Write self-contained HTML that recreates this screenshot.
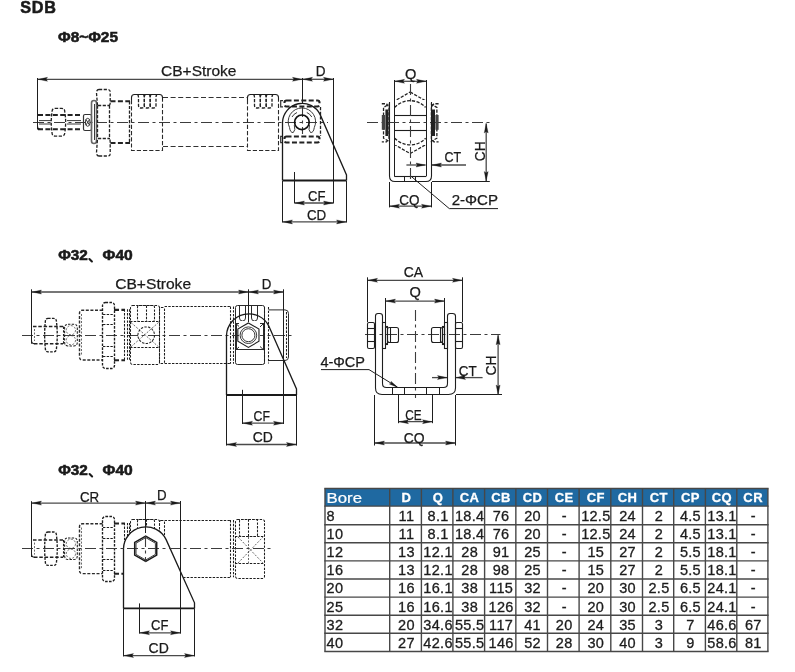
<!DOCTYPE html>
<html><head><meta charset="utf-8"><style>
html,body{margin:0;padding:0;background:#fff;width:795px;height:672px;overflow:hidden;position:relative}
svg{position:absolute;left:0;top:0;will-change:transform}
.s{stroke:#1e1e1e;stroke-width:1.1;fill:none}
.s2{stroke:#2a2a2a;stroke-width:1;fill:none}
.b{stroke:#1a1a1a;stroke-width:1.3;fill:none}
.bb{stroke:#1a1a1a;stroke-width:1.9;fill:none}
.ex{stroke:#1e1e1e;stroke-width:1;fill:none}
.dl{stroke:#4a4a4a;stroke-width:1.3;fill:none}
.d{stroke:#222;stroke-width:1.3;fill:none;stroke-dasharray:3.2 1.5}
.d2{stroke:#1e1e1e;stroke-width:1.05;fill:none;stroke-dasharray:2.4 1.3}
.dlong{stroke:#333;stroke-width:1.1;fill:none;stroke-dasharray:5 2.6}
.th3{stroke:#222;stroke-width:1.5;fill:none;stroke-dasharray:3.5 1.8}
.d3{stroke:#1e1e1e;stroke-width:1.35;fill:none;stroke-dasharray:2.6 1.3}
.dm2{stroke:#2a2a2a;stroke-width:1.1;fill:none;stroke-dasharray:4.2 2}
.cm{stroke:#1a1a1a;stroke-width:2.1;stroke-linecap:round}
.dt{stroke:#444;stroke-width:0.8;fill:none;stroke-dasharray:2 1.5}
.th{stroke:#222;stroke-width:2.1;fill:none;stroke-dasharray:5 2.4}
.th2{stroke:#2c2c2c;stroke-width:1.4;fill:none;stroke-dasharray:3 1.6}
.cl{stroke:#3c3c3c;stroke-width:1.1;fill:none;stroke-dasharray:11 3.5 3 3.5}
.g{stroke:#3a3a3a;stroke-width:1;fill:none}
.g2{stroke:#333;stroke-width:1.2;fill:none}
.fl{stroke:#666;stroke-width:1.6;fill:none}
.hx{stroke:#1a1a1a;stroke-width:1.5;fill:none}
.pin{stroke:#111;stroke-width:1.7;fill:none}
.fk{fill:#222;stroke:none}
.fk2{fill:#444;stroke:none}
.ar{fill:#1a1a1a;stroke:#1a1a1a;stroke-width:0.3}
.t{font-family:"Liberation Sans",sans-serif;fill:#1a1a1a;stroke:#1a1a1a;stroke-width:0.25}
.tb{font-family:"Liberation Sans",sans-serif;font-weight:bold;fill:#1a1a1a;stroke:#1a1a1a;stroke-width:0.55}
.tbl{stroke:#474747;stroke-width:1.4}
.th0{font-family:"Liberation Sans",sans-serif;fill:#fff;stroke:#fff;stroke-width:0.2}
.thb{font-family:"Liberation Sans",sans-serif;font-weight:bold;fill:#fff;letter-spacing:0.4px;stroke:#fff;stroke-width:0.3}
.td{font-family:"Liberation Sans",sans-serif;fill:#1c1c1c;letter-spacing:0.3px;stroke:#1c1c1c;stroke-width:0.3}
</style></head><body>
<svg width="795" height="672" viewBox="0 0 795 672">
<text class="tb" x="20.3" y="13.1" font-size="16.2" text-anchor="start" letter-spacing="0.7">SDB</text>
<text class="tb" x="58" y="41.5" font-size="14" text-anchor="start" textLength="60" lengthAdjust="spacingAndGlyphs">Φ8~Φ25</text>
<line class="cl" x1="33" y1="122.5" x2="328" y2="122.5"/>
<line class="ex" x1="37.5" y1="78" x2="37.5" y2="129.5"/>
<line class="dl" x1="38" y1="79.3" x2="302" y2="79.3"/>
<polygon class="ar" points="38,79.3 47.5,77.3 46.08,79.3 47.5,81.3"/>
<polygon class="ar" points="302,79.3 292.5,77.3 293.93,79.3 292.5,81.3"/>
<text class="t" x="161" y="75.8" font-size="14.8" text-anchor="start" textLength="75.5" lengthAdjust="spacingAndGlyphs">CB+Stroke</text>
<line class="ex" x1="302.5" y1="78" x2="302.5" y2="104"/>
<line class="cl" x1="302.5" y1="106" x2="302.5" y2="134"/>
<line class="dl" x1="303" y1="79.3" x2="333" y2="79.3"/>
<polygon class="ar" points="303,79.3 312.5,77.3 311.07,79.3 312.5,81.3"/>
<polygon class="ar" points="333,79.3 323.5,77.3 324.93,79.3 323.5,81.3"/>
<line class="ex" x1="333.5" y1="78" x2="333.5" y2="203.5"/>
<text class="t" x="315.8" y="75.6" font-size="14.6" text-anchor="start" textLength="9.8" lengthAdjust="spacingAndGlyphs">D</text>
<path class="th" d="M38,115 L82,115 M38,129.3 L82,129.3"/>
<path class="s" d="M37.5,126 Q37.5,129.3 40.5,129.3"/>
<path class="g" d="M39,120.6 L51,120.6 M39,124 L51,124 M67,120.6 L81,120.6 M67,124 L81,124"/>
<path class="d" d="M55,108.4 L61.5,108.4 Q64.8,108.4 64.8,112 Q66.5,122.3 64.8,132.5 Q64.8,136.1 61.5,136.1 L55,136.1 Q52,136.1 52,132.5 Q50.5,122.3 52,112 Q52,108.4 55,108.4 Z"/>
<rect class="g2" x="83.5" y="114.5" width="8" height="16" rx="1.5"/>
<ellipse class="g" cx="87.7" cy="122.3" rx="2.4" ry="4"/>
<path class="g" d="M86,119.5 L89.5,125 M86,125 L89.5,119.5"/>
<rect class="fl" x="91.5" y="100.5" width="5" height="43" rx="2.5"/>
<line class="g" x1="94.5" y1="104" x2="94.5" y2="140"/>
<path class="d" d="M99,89.5 L108,89.5 Q110.2,89.5 110.2,92 L110.2,103 Q110.2,105.6 108.5,105.6 M99,89.5 Q96.5,89.5 96.5,93 L97.5,105.6"/>
<path class="d" d="M99,156 L108,156 Q110.2,156 110.2,153.5 L110.2,142 Q110.2,138.6 108.5,138.6 M99,156 Q96.5,156 96.5,152.5 L97.5,138.6"/>
<line class="d" x1="109.5" y1="105.6" x2="109.5" y2="138.6"/>
<line class="d" x1="97.5" y1="105.6" x2="97.5" y2="138.6"/>
<line class="d" x1="98" y1="105.5" x2="110" y2="105.5"/>
<line class="d" x1="98" y1="138.5" x2="110" y2="138.5"/>
<path class="th" d="M110.5,101.2 L130,101.2 M110.5,143 L130,143"/>
<line class="d" x1="129.5" y1="101.2" x2="129.5" y2="143"/>
<path class="s" d="M131.5,100 L131.5,97.5 Q131.5,94.5 134.5,94.5 L159.5,94.5 Q162.5,94.5 162.5,97.5 L162.5,100"/>
<path class="dm2" d="M131.5,100 L131.5,150.5 L162.5,150.5 L162.5,100"/>
<path class="d" d="M137.7,94.5 Q138.5,95.5 138.5,97.5 L138.5,105.5 Q138.5,108 141,108 L141.83,108 Q144.33,108 144.33,105.5 L144.33,97.5 Q144.33,95.5 145.13,94.5"/>
<path class="d" d="M143.53,94.5 Q144.33,95.5 144.33,97.5 L144.33,105.5 Q144.33,108 146.83,108 L147.67,108 Q150.17,108 150.17,105.5 L150.17,97.5 Q150.17,95.5 150.97,94.5"/>
<path class="d" d="M149.37,94.5 Q150.17,95.5 150.17,97.5 L150.17,105.5 Q150.17,108 152.67,108 L153.5,108 Q156,108 156,105.5 L156,97.5 Q156,95.5 156.8,94.5"/>
<path class="dlong" d="M163,97.5 L247,97.5 M163,146.5 L247,146.5"/>
<path class="s" d="M247.5,100 L247.5,97.5 Q247.5,94.5 250.5,94.5 L275.5,94.5 Q278.5,94.5 278.5,97.5 L278.5,100"/>
<path class="dm2" d="M247.5,100 L247.5,150.5 L278.5,150.5 L278.5,100"/>
<path class="d" d="M253.7,94.5 Q254.5,95.5 254.5,97.5 L254.5,105.5 Q254.5,108 257,108 L257.83,108 Q260.33,108 260.33,105.5 L260.33,97.5 Q260.33,95.5 261.13,94.5"/>
<path class="d" d="M259.53,94.5 Q260.33,95.5 260.33,97.5 L260.33,105.5 Q260.33,108 262.83,108 L263.67,108 Q266.17,108 266.17,105.5 L266.17,97.5 Q266.17,95.5 266.97,94.5"/>
<path class="d" d="M265.37,94.5 Q266.17,95.5 266.17,97.5 L266.17,105.5 Q266.17,108 268.67,108 L269.5,108 Q272,108 272,105.5 L272,97.5 Q272,95.5 272.8,94.5"/>
<path class="g2" d="M283,100.6 L280.7,100.6 L280.7,106.9 L283,106.9"/>
<rect class="th" x="284.5" y="100.5" width="35" height="6" rx="2"/>
<path class="g2" d="M283,136.3 L280.7,136.3 L280.7,142.6 L283,142.6"/>
<rect class="th" x="284.5" y="136.5" width="35" height="6" rx="2"/>
<line class="d" x1="320.5" y1="107" x2="320.5" y2="136"/>
<path class="b" d="M282.5,180.5 L282.5,122.3 A19.8,19.8 0 0 1 320.05,114.38 L346.5,175 L346.5,180.5"/>
<line class="bb" x1="282.5" y1="180.5" x2="346.5" y2="180.5"/>
<line class="ex" x1="282.5" y1="181" x2="282.5" y2="222.6"/>
<line class="ex" x1="346.5" y1="181" x2="346.5" y2="222.6"/>
<circle class="pin" cx="301.9" cy="122.3" r="7.3"/>
<path class="g" d="M289.5,127.5 A13.7,13.7 0 1 1 314.3,127.5 Q313.5,133 310.5,132.5 Q308,130.5 309.5,125"/>
<path class="g" d="M289.5,127.5 Q290.3,133 293.3,132.5 Q295.8,130.5 294.3,125"/>
<path class="g" d="M292,117 A10.5,10.5 0 0 1 297,112.5 M311.8,117 A10.5,10.5 0 0 0 306.8,112.5"/>
<line class="ex" x1="294.5" y1="172" x2="294.5" y2="203.5"/>
<line class="dl" x1="295" y1="203" x2="333" y2="203"/>
<polygon class="ar" points="295,203 304.5,201 303.07,203 304.5,205"/>
<polygon class="ar" points="333,203 323.5,201 324.93,203 323.5,205"/>
<text class="t" x="308" y="201" font-size="14.6" text-anchor="start" textLength="17.5" lengthAdjust="spacingAndGlyphs">CF</text>
<line class="dl" x1="283" y1="221.9" x2="346" y2="221.9"/>
<polygon class="ar" points="283,221.9 292.5,219.9 291.07,221.9 292.5,223.9"/>
<polygon class="ar" points="346,221.9 336.5,219.9 337.93,221.9 336.5,223.9"/>
<text class="t" x="306.9" y="220.4" font-size="14.6" text-anchor="start" textLength="19.3" lengthAdjust="spacingAndGlyphs">CD</text>
<polygon class="d" points="410.2,92 436.87,107.4 436.87,138.2 410.2,153.6 383.53,138.2 383.53,107.4"/>
<rect x="389.8" y="100" width="40.8" height="45" fill="#fff"/>
<path class="d" d="M394.8,107.4 A21,21 0 0 1 425.6,107.4"/>
<path class="d" d="M394.8,138.2 A21,21 0 0 0 425.6,138.2"/>
<line class="s" x1="394.3" y1="115.5" x2="426" y2="115.5"/>
<line class="s" x1="394.3" y1="130.5" x2="426" y2="130.5"/>
<line class="ex" x1="394.5" y1="80" x2="394.5" y2="176.4"/>
<line class="ex" x1="426.5" y1="80" x2="426.5" y2="176.4"/>
<path class="s" d="M389.5,102 L389.5,176 Q389.5,181.5 395,181.5 L426,181.5 Q431.5,181.5 431.5,176 L431.5,102"/>
<line class="s" x1="394.3" y1="176.5" x2="426" y2="176.5"/>
<line class="ex" x1="404.5" y1="176.4" x2="404.5" y2="181.5"/>
<line class="ex" x1="415.5" y1="176.4" x2="415.5" y2="181.5"/>
<line class="cl" x1="410.5" y1="84" x2="410.5" y2="182"/>
<line class="cl" x1="367" y1="122.5" x2="490" y2="122.5"/>
<path class="d" d="M438.6,103.75 L433.9,103.75 L431.4,107 L431.4,138.5 L433.9,141.8 L438.6,141.8"/>
<rect class="fk" x="431.9" y="109.5" width="3.1" height="26.5"/>
<rect class="fk2" x="435.4" y="115" width="3.2" height="14.8"/>
<path class="d" d="M381.8,103.75 L386.5,103.75 L389,107 L389,138.5 L386.5,141.8 L381.8,141.8"/>
<rect class="fk" x="385.4" y="109.5" width="3.1" height="26.5"/>
<rect class="fk2" x="381.8" y="115" width="3.2" height="14.8"/>
<line class="dl" x1="395" y1="81.3" x2="426" y2="81.3"/>
<polygon class="ar" points="395,81.3 404.5,79.3 403.07,81.3 404.5,83.3"/>
<polygon class="ar" points="426,81.3 416.5,79.3 417.93,81.3 416.5,83.3"/>
<text class="t" x="410.7" y="78.9" font-size="14.6" text-anchor="middle">Q</text>
<line class="ex" x1="389.5" y1="182" x2="389.5" y2="207.4"/>
<line class="ex" x1="431.5" y1="182" x2="431.5" y2="207.4"/>
<line class="dl" x1="390" y1="206.2" x2="431" y2="206.2"/>
<polygon class="ar" points="390,206.2 399.5,204.2 398.07,206.2 399.5,208.2"/>
<polygon class="ar" points="431,206.2 421.5,204.2 422.93,206.2 421.5,208.2"/>
<text class="t" x="399.3" y="205" font-size="14.6" text-anchor="start" textLength="20.2" lengthAdjust="spacingAndGlyphs">CQ</text>
<line class="ex" x1="432" y1="181.5" x2="489.8" y2="181.5"/>
<line class="dl" x1="486.2" y1="123.5" x2="486.2" y2="181"/>
<polygon class="ar" points="486.2,123.5 484.2,133 486.2,131.57 488.2,133"/>
<polygon class="ar" points="486.2,181 484.2,171.5 486.2,172.93 488.2,171.5"/>
<text class="t" x="0" y="-0.4" font-size="14.6" text-anchor="start" textLength="19.8" lengthAdjust="spacingAndGlyphs" transform="translate(485,161.2) rotate(-90)">CH</text>
<line class="dl" x1="406.4" y1="165" x2="425.5" y2="165"/>
<polygon class="ar" points="425.5,165 416,163 417.43,165 416,167"/>
<line class="dl" x1="432" y1="165" x2="466" y2="165"/>
<polygon class="ar" points="432,165 441.5,163 440.07,165 441.5,167"/>
<text class="t" x="444.5" y="161.7" font-size="14.6" text-anchor="start" textLength="16.7" lengthAdjust="spacingAndGlyphs">CT</text>
<path class="ex" d="M411.2,176.4 L449.3,208.6 L498,208.6"/>
<text class="t" x="451.7" y="204.5" font-size="14.6" text-anchor="start" textLength="46.3" lengthAdjust="spacingAndGlyphs">2-ΦCP</text>
<line class="cl" x1="22" y1="335.5" x2="292" y2="335.5"/>
<path class="th3" d="M33,326.5 L63,326.5 M34,343.7 L63,343.7"/>
<path class="s" d="M31.5,340.5 Q31.5,343.7 34.5,343.7"/>
<line class="dt" x1="34.5" y1="329" x2="34.5" y2="341"/>
<line class="d2" x1="63.5" y1="326.5" x2="63.5" y2="343.7"/>
<path class="d3" d="M48,318.4 L53.5,318.4 Q56.5,318.4 56.5,322 Q58,335.2 56.5,348 Q56.5,351.8 53.5,351.8 L48,351.8 Q45.3,351.8 45.3,348 Q44,335.2 45.3,322 Q45.3,318.4 48,318.4 Z"/>
<path class="d2" d="M68,324.3 L74,324.3 Q77.3,324.3 77.3,328 L77.3,342 Q77.3,345.9 74,345.9 L68,345.9 Q64.6,345.9 64.6,342 L64.6,328 Q64.6,324.3 68,324.3 Z"/>
<circle class="dt" cx="70.9" cy="330.2" r="4.6"/>
<circle class="dt" cx="70.9" cy="340.2" r="4.6"/>
<path class="th2" d="M102.6,310.2 L82.5,310.2 Q79.5,310.2 79.5,313.2 L79.5,357 Q79.5,360 82.5,360 L102.6,360"/>
<line class="dt" x1="81.5" y1="314" x2="81.5" y2="356"/>
<rect class="d3" x="102.5" y="302.5" width="12" height="66" rx="3"/>
<line class="d2" x1="103" y1="314.5" x2="113.5" y2="314.5"/>
<line class="d2" x1="103" y1="324.5" x2="113.5" y2="324.5"/>
<line class="d2" x1="103" y1="346.5" x2="113.5" y2="346.5"/>
<line class="d2" x1="103" y1="356.5" x2="113.5" y2="356.5"/>
<path class="th" d="M114,309.9 L125,309.9 M114,360.2 L125,360.2"/>
<line class="d2" x1="124.5" y1="309.3" x2="124.5" y2="360.5"/>
<line class="d2" x1="127.5" y1="309.3" x2="127.5" y2="360.5"/>
<line class="d2" x1="129.5" y1="309.3" x2="129.5" y2="360.5"/>
<rect class="d2" x="130.5" y="305.5" width="29" height="59" rx="2"/>
<rect class="d2" x="137.5" y="305.5" width="17" height="16" rx="1.5"/>
<line class="d2" x1="146.5" y1="305.7" x2="146.5" y2="321.8"/>
<line class="d2" x1="130.1" y1="347.5" x2="159.3" y2="347.5"/>
<line class="d2" x1="130.1" y1="321.5" x2="159.3" y2="321.5"/>
<path class="dt" d="M131,322.5 L158.5,346.8 M131,346.8 L158.5,322.5"/>
<circle class="d2" cx="146.2" cy="335.2" r="8.3"/>
<rect class="d2" x="159.5" y="307.5" width="5" height="56" rx="1.5"/>
<line class="d2" x1="164.6" y1="306.5" x2="230.7" y2="306.5"/>
<line class="d2" x1="164.6" y1="363.5" x2="230.7" y2="363.5"/>
<line class="d2" x1="230.5" y1="306.5" x2="230.5" y2="363.75"/>
<line class="d2" x1="233.5" y1="306.5" x2="233.5" y2="363.75"/>
<rect class="s2" x="235.5" y="305.5" width="29" height="59" rx="2"/>
<path class="s2" d="M239.5,305.7 L239.5,318 Q239.5,321 242.5,321 Q245.5,321 245.5,318 L245.5,305.7 M251.5,305.7 L251.5,318 Q251.5,321 254.5,321 Q257.5,321 257.5,318 L257.5,305.7"/>
<line class="s2" x1="235.5" y1="349.5" x2="264.6" y2="349.5"/>
<rect class="s2" x="236.5" y="323.5" width="27" height="26"/>
<path class="s2" d="M236,323.6 L263.5,349.8 M236,349.8 L263.5,323.6"/>
<rect x="239" y="321" width="21" height="28" fill="#fff"/>
<polygon class="s" points="248.4,323 258.97,329.1 258.97,341.3 248.4,347.4 237.83,341.3 237.83,329.1"/>
<circle class="g" cx="248.4" cy="335.2" r="8.3"/>
<circle class="g" cx="248.4" cy="335.2" r="6.5"/>
<line class="d2" x1="264.5" y1="307" x2="264.5" y2="363.5"/>
<line class="d2" x1="268.5" y1="307" x2="268.5" y2="363.5"/>
<path class="s2" d="M268.8,309.9 L285,309.9 Q288.5,309.9 288.5,313.5 L288.5,357 Q288.5,360.5 285,360.5 L268.8,360.5"/>
<line class="d2" x1="286.5" y1="312" x2="286.5" y2="358"/>
<path class="b" d="M226.5,395 L226.5,335.2 A22.4,22.4 0 0 1 268.91,326.19 L296.5,389 L296.5,395"/>
<line class="bb" x1="226.5" y1="395" x2="296.5" y2="395"/>
<line class="ex" x1="226.5" y1="395" x2="226.5" y2="445.6"/>
<line class="ex" x1="296.5" y1="395" x2="296.5" y2="445.6"/>
<line class="ex" x1="31.5" y1="289.3" x2="31.5" y2="343.7"/>
<line class="dl" x1="32" y1="292" x2="248" y2="292"/>
<polygon class="ar" points="32,292 41.5,290 40.08,292 41.5,294"/>
<polygon class="ar" points="248,292 238.5,290 239.93,292 238.5,294"/>
<text class="t" x="115.2" y="288.6" font-size="14.8" text-anchor="start" textLength="75.9" lengthAdjust="spacingAndGlyphs">CB+Stroke</text>
<line class="ex" x1="248.5" y1="289.3" x2="248.5" y2="322"/>
<line class="dl" x1="249" y1="292" x2="283" y2="292"/>
<polygon class="ar" points="249,292 258.5,290 257.07,292 258.5,294"/>
<polygon class="ar" points="283,292 273.5,290 274.93,292 273.5,294"/>
<line class="ex" x1="283.5" y1="289.3" x2="283.5" y2="424"/>
<text class="t" x="261.8" y="289.3" font-size="14.6" text-anchor="start" textLength="9.6" lengthAdjust="spacingAndGlyphs">D</text>
<line class="ex" x1="242.5" y1="389.8" x2="242.5" y2="424"/>
<line class="dl" x1="243" y1="423.2" x2="283" y2="423.2"/>
<polygon class="ar" points="243,423.2 252.5,421.2 251.07,423.2 252.5,425.2"/>
<polygon class="ar" points="283,423.2 273.5,421.2 274.93,423.2 273.5,425.2"/>
<text class="t" x="253.6" y="421" font-size="14.6" text-anchor="start" textLength="16.4" lengthAdjust="spacingAndGlyphs">CF</text>
<line class="dl" x1="227" y1="444.5" x2="296" y2="444.5"/>
<polygon class="ar" points="227,444.5 236.5,442.5 235.07,444.5 236.5,446.5"/>
<polygon class="ar" points="296,444.5 286.5,442.5 287.93,444.5 286.5,446.5"/>
<text class="t" x="252.8" y="441.8" font-size="14.6" text-anchor="start" textLength="20.1" lengthAdjust="spacingAndGlyphs">CD</text>
<text class="tb" x="58.2" y="260.1" font-size="14.2" text-anchor="start" textLength="29.6" lengthAdjust="spacingAndGlyphs">Φ32</text>
<text class="tb" x="102.6" y="260.1" font-size="14.2" text-anchor="start" textLength="30.2" lengthAdjust="spacingAndGlyphs">Φ40</text>
<line class="cm" x1="89.4" y1="259.1" x2="91.9" y2="261.5"/>
<line class="cl" x1="415.5" y1="310" x2="415.5" y2="398"/>
<line class="cl" x1="365" y1="334.5" x2="500.5" y2="334.5"/>
<path class="s" d="M375.5,316 Q375.5,313.5 378,313.5 L379.8,313.5 Q382.5,313.5 382.5,316 L382.5,383.4 Q382.5,387.5 386.5,387.5 L443.5,387.5 Q447.5,387.5 447.5,383.4 L447.5,316 Q447.5,313.5 450,313.5 L452.5,313.5 Q455.5,313.5 455.5,316 L455.5,388 Q455.5,394.5 448.5,394.5 L382,394.5 Q375.5,394.5 375.5,388 Z"/>
<rect class="s" x="455.5" y="322.5" width="7" height="26" rx="1.5"/>
<line class="s" x1="455.3" y1="328.5" x2="462.6" y2="328.5"/>
<line class="s" x1="455.3" y1="341.5" x2="462.6" y2="341.5"/>
<rect class="s" x="444.5" y="322.5" width="3" height="26"/>
<rect class="s" x="442.5" y="326.5" width="2" height="18"/>
<rect class="s" x="431.5" y="327.5" width="11" height="15" rx="2"/>
<line class="s" x1="440.5" y1="327.8" x2="440.5" y2="342.5"/>
<rect class="s" x="367.5" y="322.5" width="7" height="26" rx="1.5"/>
<line class="s" x1="367.6" y1="328.5" x2="374.9" y2="328.5"/>
<line class="s" x1="367.6" y1="341.5" x2="374.9" y2="341.5"/>
<rect class="s" x="382.5" y="322.5" width="3" height="26"/>
<rect class="s" x="385.5" y="326.5" width="2" height="18"/>
<rect class="s" x="387.5" y="327.5" width="11" height="15" rx="2"/>
<line class="s" x1="390.5" y1="327.8" x2="390.5" y2="342.5"/>
<line class="ex" x1="392.5" y1="387.4" x2="392.5" y2="394.9"/>
<line class="ex" x1="404.5" y1="387.4" x2="404.5" y2="394.9"/>
<line class="ex" x1="426.5" y1="387.4" x2="426.5" y2="394.9"/>
<line class="ex" x1="439.5" y1="387.4" x2="439.5" y2="394.9"/>
<line class="ex" x1="367.5" y1="277.3" x2="367.5" y2="322"/>
<line class="ex" x1="462.5" y1="277.3" x2="462.5" y2="322"/>
<line class="dl" x1="368" y1="280.3" x2="462" y2="280.3"/>
<polygon class="ar" points="368,280.3 377.5,278.3 376.07,280.3 377.5,282.3"/>
<polygon class="ar" points="462,280.3 452.5,278.3 453.93,280.3 452.5,282.3"/>
<text class="t" x="403.75" y="277.3" font-size="14.6" text-anchor="start" textLength="19.4" lengthAdjust="spacingAndGlyphs">CA</text>
<line class="ex" x1="385.5" y1="298" x2="385.5" y2="323"/>
<line class="ex" x1="444.5" y1="298" x2="444.5" y2="323"/>
<line class="dl" x1="386" y1="301.1" x2="444" y2="301.1"/>
<polygon class="ar" points="386,301.1 395.5,299.1 394.07,301.1 395.5,303.1"/>
<polygon class="ar" points="444,301.1 434.5,299.1 435.93,301.1 434.5,303.1"/>
<text class="t" x="415.1" y="297.3" font-size="14.6" text-anchor="middle">Q</text>
<line class="ex" x1="398.5" y1="395" x2="398.5" y2="423.2"/>
<line class="ex" x1="432.5" y1="395" x2="432.5" y2="423.2"/>
<line class="dl" x1="399" y1="421.7" x2="432" y2="421.7"/>
<polygon class="ar" points="399,421.7 408.5,419.7 407.07,421.7 408.5,423.7"/>
<polygon class="ar" points="432,421.7 422.5,419.7 423.93,421.7 422.5,423.7"/>
<text class="t" x="405.2" y="419.6" font-size="14.6" text-anchor="start" textLength="16.4" lengthAdjust="spacingAndGlyphs">CE</text>
<line class="ex" x1="374.5" y1="395" x2="374.5" y2="445.5"/>
<line class="ex" x1="455.5" y1="395" x2="455.5" y2="445.5"/>
<line class="dl" x1="375" y1="443" x2="455" y2="443"/>
<polygon class="ar" points="375,443 384.5,441 383.07,443 384.5,445"/>
<polygon class="ar" points="455,443 445.5,441 446.93,443 445.5,445"/>
<text class="t" x="403.75" y="442.5" font-size="14.6" text-anchor="start" textLength="20.9" lengthAdjust="spacingAndGlyphs">CQ</text>
<line class="ex" x1="456" y1="394.5" x2="502" y2="394.5"/>
<line class="dl" x1="498.1" y1="335.3" x2="498.1" y2="394.5"/>
<polygon class="ar" points="498.1,335.3 496.1,344.8 498.1,343.38 500.1,344.8"/>
<polygon class="ar" points="498.1,394.5 496.1,385 498.1,386.43 500.1,385"/>
<text class="t" x="0" y="-0.4" font-size="14.6" text-anchor="start" textLength="20" lengthAdjust="spacingAndGlyphs" transform="translate(496,375.5) rotate(-90)">CH</text>
<line class="dl" x1="432" y1="377.6" x2="447" y2="377.6"/>
<polygon class="ar" points="447,377.6 437.5,375.6 438.93,377.6 437.5,379.6"/>
<line class="dl" x1="456" y1="377.6" x2="482.6" y2="377.6"/>
<polygon class="ar" points="456,377.6 465.5,375.6 464.07,377.6 465.5,379.6"/>
<text class="t" x="458.8" y="375.5" font-size="14.6" text-anchor="start" textLength="17.9" lengthAdjust="spacingAndGlyphs">CT</text>
<path class="ex" d="M321,369.6 L369,369.6 L397.3,387"/>
<polygon class="ar" points="397.8,387.4 389.3,384.03 391.25,383.35 390.99,381.31"/>
<text class="t" x="320.4" y="366.6" font-size="14.6" text-anchor="start" textLength="44.6" lengthAdjust="spacingAndGlyphs">4-ΦCP</text>
<path class="th3" d="M33,540.1 L63,540.1 M34,557.3 L63,557.3"/>
<path class="s" d="M31.5,554.1 Q31.5,557.3 34.5,557.3"/>
<line class="dt" x1="34.5" y1="542.6" x2="34.5" y2="554.6"/>
<line class="d2" x1="63.5" y1="540.1" x2="63.5" y2="557.3"/>
<path class="d3" d="M48,532 L53.5,532 Q56.5,532 56.5,535.6 Q58,548.8 56.5,561.6 Q56.5,565.4 53.5,565.4 L48,565.4 Q45.3,565.4 45.3,561.6 Q44,548.8 45.3,535.6 Q45.3,532 48,532 Z"/>
<path class="d2" d="M68,537.9 L74,537.9 Q77.3,537.9 77.3,541.6 L77.3,555.6 Q77.3,559.5 74,559.5 L68,559.5 Q64.6,559.5 64.6,555.6 L64.6,541.6 Q64.6,537.9 68,537.9 Z"/>
<circle class="dt" cx="70.9" cy="543.8" r="4.6"/>
<circle class="dt" cx="70.9" cy="553.8" r="4.6"/>
<path class="th2" d="M102.6,523.8 L82.5,523.8 Q79.5,523.8 79.5,526.8 L79.5,570.6 Q79.5,573.6 82.5,573.6 L102.6,573.6"/>
<line class="dt" x1="81.5" y1="527.6" x2="81.5" y2="569.6"/>
<rect class="d3" x="102.5" y="516.5" width="12" height="65" rx="3"/>
<line class="d2" x1="103" y1="527.5" x2="113.5" y2="527.5"/>
<line class="d2" x1="103" y1="538.5" x2="113.5" y2="538.5"/>
<line class="d2" x1="103" y1="559.5" x2="113.5" y2="559.5"/>
<line class="d2" x1="103" y1="570.5" x2="113.5" y2="570.5"/>
<path class="th" d="M114,523.5 L125,523.5 M114,573.8 L125,573.8"/>
<line class="d2" x1="124.5" y1="522.9" x2="124.5" y2="574.1"/>
<line class="d2" x1="127.5" y1="522.9" x2="127.5" y2="574.1"/>
<line class="d2" x1="129.5" y1="522.9" x2="129.5" y2="574.1"/>
<rect class="d2" x="130.5" y="519.5" width="29" height="59" rx="2"/>
<rect class="d2" x="137.5" y="519.5" width="17" height="16" rx="1.5"/>
<line class="d2" x1="146.5" y1="519.3" x2="146.5" y2="535.4"/>
<line class="d2" x1="130.1" y1="561.5" x2="159.3" y2="561.5"/>
<line class="d2" x1="130.1" y1="535.5" x2="159.3" y2="535.5"/>
<path class="dt" d="M131,536.1 L158.5,560.4 M131,560.4 L158.5,536.1"/>
<circle class="d2" cx="146.2" cy="548.8" r="8.3"/>
<rect class="d2" x="159.5" y="520.5" width="5" height="57" rx="1.5"/>
<line class="d2" x1="164.6" y1="520.5" x2="230.7" y2="520.5"/>
<line class="d2" x1="164.6" y1="577.5" x2="230.7" y2="577.5"/>
<line class="d2" x1="230.5" y1="520.1" x2="230.5" y2="577.35"/>
<line class="d2" x1="233.5" y1="520.1" x2="233.5" y2="577.35"/>
<rect class="d2" x="235.5" y="519.5" width="29" height="59" rx="2"/>
<rect class="d2" x="239.5" y="519.5" width="18" height="17" rx="1.5"/>
<line class="d2" x1="248.5" y1="519.3" x2="248.5" y2="536.5"/>
<line class="d2" x1="235" y1="536.5" x2="264" y2="536.5"/>
<line class="d2" x1="235" y1="563.5" x2="264" y2="563.5"/>
<path class="dt" d="M238,537 L263,563 M238,563 L263,537"/>
<line class="dt" x1="248.5" y1="537" x2="248.5" y2="563"/>
<path d="M123.5,608.4 L123.5,548.8 A22.4,22.4 0 0 1 166.13,539.62 L194.5,602.8 L194.5,608.4 Z" fill="#fff"/>
<path class="b" d="M123.5,608.4 L123.5,548.8 A22.4,22.4 0 0 1 166.13,539.62 L194.5,602.8 L194.5,608.4"/>
<line class="bb" x1="123.5" y1="608.4" x2="194.5" y2="608.4"/>
<line class="cl" x1="22" y1="548.5" x2="273" y2="548.5"/>
<polygon class="hx" points="145.7,536.1 156.7,542.45 156.7,555.15 145.7,561.5 134.7,555.15 134.7,542.45"/>
<polygon class="g" points="145.7,537.6 155.4,543.2 155.4,554.4 145.7,560 136,554.4 136,543.2"/>
<line class="ex" x1="123.5" y1="608.4" x2="123.5" y2="656.5"/>
<line class="ex" x1="194.5" y1="608.4" x2="194.5" y2="656.5"/>
<line class="ex" x1="31.5" y1="501.2" x2="31.5" y2="557"/>
<line class="dl" x1="32" y1="503.1" x2="145" y2="503.1"/>
<polygon class="ar" points="32,503.1 41.5,501.1 40.08,503.1 41.5,505.1"/>
<polygon class="ar" points="145,503.1 135.5,501.1 136.93,503.1 135.5,505.1"/>
<text class="t" x="79.9" y="501.5" font-size="14.6" text-anchor="start" textLength="19.3" lengthAdjust="spacingAndGlyphs">CR</text>
<line class="ex" x1="145.5" y1="501" x2="145.5" y2="533"/>
<line class="cl" x1="145.5" y1="536" x2="145.5" y2="562"/>
<line class="dl" x1="146" y1="503.1" x2="180" y2="503.1"/>
<polygon class="ar" points="146,503.1 155.5,501.1 154.07,503.1 155.5,505.1"/>
<polygon class="ar" points="180,503.1 170.5,501.1 171.93,503.1 170.5,505.1"/>
<line class="ex" x1="180.5" y1="501" x2="180.5" y2="633.7"/>
<text class="t" x="156.9" y="500.4" font-size="14.6" text-anchor="start" textLength="9.6" lengthAdjust="spacingAndGlyphs">D</text>
<line class="ex" x1="139.5" y1="603.4" x2="139.5" y2="633.7"/>
<line class="dl" x1="140" y1="632.8" x2="180" y2="632.8"/>
<polygon class="ar" points="140,632.8 149.5,630.8 148.07,632.8 149.5,634.8"/>
<polygon class="ar" points="180,632.8 170.5,630.8 171.93,632.8 170.5,634.8"/>
<text class="t" x="151" y="630" font-size="14.6" text-anchor="start" textLength="17.4" lengthAdjust="spacingAndGlyphs">CF</text>
<line class="dl" x1="124" y1="655.6" x2="194" y2="655.6"/>
<polygon class="ar" points="124,655.6 133.5,653.6 132.07,655.6 133.5,657.6"/>
<polygon class="ar" points="194,655.6 184.5,653.6 185.93,655.6 184.5,657.6"/>
<text class="t" x="148.6" y="653.3" font-size="14.6" text-anchor="start" textLength="20.2" lengthAdjust="spacingAndGlyphs">CD</text>
<text class="tb" x="58.2" y="475.1" font-size="14.2" text-anchor="start" textLength="29.6" lengthAdjust="spacingAndGlyphs">Φ32</text>
<text class="tb" x="102.6" y="475.1" font-size="14.2" text-anchor="start" textLength="30.2" lengthAdjust="spacingAndGlyphs">Φ40</text>
<line class="cm" x1="89.6" y1="474" x2="92.1" y2="476.4"/>
<rect x="325" y="488.5" width="442.9" height="17.6" fill="#1f69a1"/>
<line class="tbl" x1="324.3" y1="488.5" x2="768.6" y2="488.5"/>
<line class="tbl" x1="324.3" y1="506.1" x2="768.6" y2="506.1"/>
<line class="tbl" x1="324.3" y1="524.7" x2="768.6" y2="524.7"/>
<line class="tbl" x1="324.3" y1="542.8" x2="768.6" y2="542.8"/>
<line class="tbl" x1="324.3" y1="560.9" x2="768.6" y2="560.9"/>
<line class="tbl" x1="324.3" y1="579" x2="768.6" y2="579"/>
<line class="tbl" x1="324.3" y1="597.1" x2="768.6" y2="597.1"/>
<line class="tbl" x1="324.3" y1="615.2" x2="768.6" y2="615.2"/>
<line class="tbl" x1="324.3" y1="633.3" x2="768.6" y2="633.3"/>
<line class="tbl" x1="324.3" y1="651.5" x2="768.6" y2="651.5"/>
<line class="tbl" x1="325" y1="488.5" x2="325" y2="651.5"/>
<line class="tbl" x1="389.7" y1="488.5" x2="389.7" y2="651.5"/>
<line class="tbl" x1="421.4" y1="488.5" x2="421.4" y2="651.5"/>
<line class="tbl" x1="452.9" y1="488.5" x2="452.9" y2="651.5"/>
<line class="tbl" x1="484.6" y1="488.5" x2="484.6" y2="651.5"/>
<line class="tbl" x1="515.85" y1="488.5" x2="515.85" y2="651.5"/>
<line class="tbl" x1="547.5" y1="488.5" x2="547.5" y2="651.5"/>
<line class="tbl" x1="579.1" y1="488.5" x2="579.1" y2="651.5"/>
<line class="tbl" x1="610.8" y1="488.5" x2="610.8" y2="651.5"/>
<line class="tbl" x1="642.5" y1="488.5" x2="642.5" y2="651.5"/>
<line class="tbl" x1="673.7" y1="488.5" x2="673.7" y2="651.5"/>
<line class="tbl" x1="705.4" y1="488.5" x2="705.4" y2="651.5"/>
<line class="tbl" x1="736.8" y1="488.5" x2="736.8" y2="651.5"/>
<line class="tbl" x1="767.9" y1="488.5" x2="767.9" y2="651.5"/>
<text class="th0" x="326.6" y="502.8" font-size="14.2" text-anchor="start" textLength="35.4" lengthAdjust="spacingAndGlyphs">Bore</text>
<text class="thb" x="406.35" y="502.3" font-size="13" text-anchor="middle">D</text>
<text class="thb" x="437.95" y="502.3" font-size="13" text-anchor="middle">Q</text>
<text class="thb" x="469.55" y="502.3" font-size="13" text-anchor="middle">CA</text>
<text class="thb" x="501.03" y="502.3" font-size="13" text-anchor="middle">CB</text>
<text class="thb" x="532.47" y="502.3" font-size="13" text-anchor="middle">CD</text>
<text class="thb" x="564.1" y="502.3" font-size="13" text-anchor="middle">CE</text>
<text class="thb" x="595.75" y="502.3" font-size="13" text-anchor="middle">CF</text>
<text class="thb" x="627.45" y="502.3" font-size="13" text-anchor="middle">CH</text>
<text class="thb" x="658.9" y="502.3" font-size="13" text-anchor="middle">CT</text>
<text class="thb" x="690.35" y="502.3" font-size="13" text-anchor="middle">CP</text>
<text class="thb" x="721.9" y="502.3" font-size="13" text-anchor="middle">CQ</text>
<text class="thb" x="753.15" y="502.3" font-size="13" text-anchor="middle">CR</text>
<text class="td" x="326.6" y="521" font-size="14.5" text-anchor="start">8</text>
<text class="td" x="406.45" y="521" font-size="14.5" text-anchor="middle">11</text>
<text class="td" x="438.05" y="521" font-size="14.5" text-anchor="middle">8.1</text>
<text class="td" x="469.65" y="521" font-size="14.5" text-anchor="middle">18.4</text>
<text class="td" x="501.12" y="521" font-size="14.5" text-anchor="middle">76</text>
<text class="td" x="532.57" y="521" font-size="14.5" text-anchor="middle">20</text>
<text class="td" x="564.2" y="521" font-size="14.5" text-anchor="middle">-</text>
<text class="td" x="595.85" y="521" font-size="14.5" text-anchor="middle">12.5</text>
<text class="td" x="627.55" y="521" font-size="14.5" text-anchor="middle">24</text>
<text class="td" x="659" y="521" font-size="14.5" text-anchor="middle">2</text>
<text class="td" x="690.45" y="521" font-size="14.5" text-anchor="middle">4.5</text>
<text class="td" x="722" y="521" font-size="14.5" text-anchor="middle">13.1</text>
<text class="td" x="753.25" y="521" font-size="14.5" text-anchor="middle">-</text>
<text class="td" x="326.6" y="539.1" font-size="14.5" text-anchor="start">10</text>
<text class="td" x="406.45" y="539.1" font-size="14.5" text-anchor="middle">11</text>
<text class="td" x="438.05" y="539.1" font-size="14.5" text-anchor="middle">8.1</text>
<text class="td" x="469.65" y="539.1" font-size="14.5" text-anchor="middle">18.4</text>
<text class="td" x="501.12" y="539.1" font-size="14.5" text-anchor="middle">76</text>
<text class="td" x="532.57" y="539.1" font-size="14.5" text-anchor="middle">20</text>
<text class="td" x="564.2" y="539.1" font-size="14.5" text-anchor="middle">-</text>
<text class="td" x="595.85" y="539.1" font-size="14.5" text-anchor="middle">12.5</text>
<text class="td" x="627.55" y="539.1" font-size="14.5" text-anchor="middle">24</text>
<text class="td" x="659" y="539.1" font-size="14.5" text-anchor="middle">2</text>
<text class="td" x="690.45" y="539.1" font-size="14.5" text-anchor="middle">4.5</text>
<text class="td" x="722" y="539.1" font-size="14.5" text-anchor="middle">13.1</text>
<text class="td" x="753.25" y="539.1" font-size="14.5" text-anchor="middle">-</text>
<text class="td" x="326.6" y="557.2" font-size="14.5" text-anchor="start">12</text>
<text class="td" x="406.45" y="557.2" font-size="14.5" text-anchor="middle">13</text>
<text class="td" x="438.05" y="557.2" font-size="14.5" text-anchor="middle">12.1</text>
<text class="td" x="469.65" y="557.2" font-size="14.5" text-anchor="middle">28</text>
<text class="td" x="501.12" y="557.2" font-size="14.5" text-anchor="middle">91</text>
<text class="td" x="532.57" y="557.2" font-size="14.5" text-anchor="middle">25</text>
<text class="td" x="564.2" y="557.2" font-size="14.5" text-anchor="middle">-</text>
<text class="td" x="595.85" y="557.2" font-size="14.5" text-anchor="middle">15</text>
<text class="td" x="627.55" y="557.2" font-size="14.5" text-anchor="middle">27</text>
<text class="td" x="659" y="557.2" font-size="14.5" text-anchor="middle">2</text>
<text class="td" x="690.45" y="557.2" font-size="14.5" text-anchor="middle">5.5</text>
<text class="td" x="722" y="557.2" font-size="14.5" text-anchor="middle">18.1</text>
<text class="td" x="753.25" y="557.2" font-size="14.5" text-anchor="middle">-</text>
<text class="td" x="326.6" y="575.3" font-size="14.5" text-anchor="start">16</text>
<text class="td" x="406.45" y="575.3" font-size="14.5" text-anchor="middle">13</text>
<text class="td" x="438.05" y="575.3" font-size="14.5" text-anchor="middle">12.1</text>
<text class="td" x="469.65" y="575.3" font-size="14.5" text-anchor="middle">28</text>
<text class="td" x="501.12" y="575.3" font-size="14.5" text-anchor="middle">98</text>
<text class="td" x="532.57" y="575.3" font-size="14.5" text-anchor="middle">25</text>
<text class="td" x="564.2" y="575.3" font-size="14.5" text-anchor="middle">-</text>
<text class="td" x="595.85" y="575.3" font-size="14.5" text-anchor="middle">15</text>
<text class="td" x="627.55" y="575.3" font-size="14.5" text-anchor="middle">27</text>
<text class="td" x="659" y="575.3" font-size="14.5" text-anchor="middle">2</text>
<text class="td" x="690.45" y="575.3" font-size="14.5" text-anchor="middle">5.5</text>
<text class="td" x="722" y="575.3" font-size="14.5" text-anchor="middle">18.1</text>
<text class="td" x="753.25" y="575.3" font-size="14.5" text-anchor="middle">-</text>
<text class="td" x="326.6" y="593.4" font-size="14.5" text-anchor="start">20</text>
<text class="td" x="406.45" y="593.4" font-size="14.5" text-anchor="middle">16</text>
<text class="td" x="438.05" y="593.4" font-size="14.5" text-anchor="middle">16.1</text>
<text class="td" x="469.65" y="593.4" font-size="14.5" text-anchor="middle">38</text>
<text class="td" x="501.12" y="593.4" font-size="14.5" text-anchor="middle">115</text>
<text class="td" x="532.57" y="593.4" font-size="14.5" text-anchor="middle">32</text>
<text class="td" x="564.2" y="593.4" font-size="14.5" text-anchor="middle">-</text>
<text class="td" x="595.85" y="593.4" font-size="14.5" text-anchor="middle">20</text>
<text class="td" x="627.55" y="593.4" font-size="14.5" text-anchor="middle">30</text>
<text class="td" x="659" y="593.4" font-size="14.5" text-anchor="middle">2.5</text>
<text class="td" x="690.45" y="593.4" font-size="14.5" text-anchor="middle">6.5</text>
<text class="td" x="722" y="593.4" font-size="14.5" text-anchor="middle">24.1</text>
<text class="td" x="753.25" y="593.4" font-size="14.5" text-anchor="middle">-</text>
<text class="td" x="326.6" y="611.5" font-size="14.5" text-anchor="start">25</text>
<text class="td" x="406.45" y="611.5" font-size="14.5" text-anchor="middle">16</text>
<text class="td" x="438.05" y="611.5" font-size="14.5" text-anchor="middle">16.1</text>
<text class="td" x="469.65" y="611.5" font-size="14.5" text-anchor="middle">38</text>
<text class="td" x="501.12" y="611.5" font-size="14.5" text-anchor="middle">126</text>
<text class="td" x="532.57" y="611.5" font-size="14.5" text-anchor="middle">32</text>
<text class="td" x="564.2" y="611.5" font-size="14.5" text-anchor="middle">-</text>
<text class="td" x="595.85" y="611.5" font-size="14.5" text-anchor="middle">20</text>
<text class="td" x="627.55" y="611.5" font-size="14.5" text-anchor="middle">30</text>
<text class="td" x="659" y="611.5" font-size="14.5" text-anchor="middle">2.5</text>
<text class="td" x="690.45" y="611.5" font-size="14.5" text-anchor="middle">6.5</text>
<text class="td" x="722" y="611.5" font-size="14.5" text-anchor="middle">24.1</text>
<text class="td" x="753.25" y="611.5" font-size="14.5" text-anchor="middle">-</text>
<text class="td" x="326.6" y="629.6" font-size="14.5" text-anchor="start">32</text>
<text class="td" x="406.45" y="629.6" font-size="14.5" text-anchor="middle">20</text>
<text class="td" x="438.05" y="629.6" font-size="14.5" text-anchor="middle">34.6</text>
<text class="td" x="469.65" y="629.6" font-size="14.5" text-anchor="middle">55.5</text>
<text class="td" x="501.12" y="629.6" font-size="14.5" text-anchor="middle">117</text>
<text class="td" x="532.57" y="629.6" font-size="14.5" text-anchor="middle">41</text>
<text class="td" x="564.2" y="629.6" font-size="14.5" text-anchor="middle">20</text>
<text class="td" x="595.85" y="629.6" font-size="14.5" text-anchor="middle">24</text>
<text class="td" x="627.55" y="629.6" font-size="14.5" text-anchor="middle">35</text>
<text class="td" x="659" y="629.6" font-size="14.5" text-anchor="middle">3</text>
<text class="td" x="690.45" y="629.6" font-size="14.5" text-anchor="middle">7</text>
<text class="td" x="722" y="629.6" font-size="14.5" text-anchor="middle">46.6</text>
<text class="td" x="753.25" y="629.6" font-size="14.5" text-anchor="middle">67</text>
<text class="td" x="326.6" y="647.8" font-size="14.5" text-anchor="start">40</text>
<text class="td" x="406.45" y="647.8" font-size="14.5" text-anchor="middle">27</text>
<text class="td" x="438.05" y="647.8" font-size="14.5" text-anchor="middle">42.6</text>
<text class="td" x="469.65" y="647.8" font-size="14.5" text-anchor="middle">55.5</text>
<text class="td" x="501.12" y="647.8" font-size="14.5" text-anchor="middle">146</text>
<text class="td" x="532.57" y="647.8" font-size="14.5" text-anchor="middle">52</text>
<text class="td" x="564.2" y="647.8" font-size="14.5" text-anchor="middle">28</text>
<text class="td" x="595.85" y="647.8" font-size="14.5" text-anchor="middle">30</text>
<text class="td" x="627.55" y="647.8" font-size="14.5" text-anchor="middle">40</text>
<text class="td" x="659" y="647.8" font-size="14.5" text-anchor="middle">3</text>
<text class="td" x="690.45" y="647.8" font-size="14.5" text-anchor="middle">9</text>
<text class="td" x="722" y="647.8" font-size="14.5" text-anchor="middle">58.6</text>
<text class="td" x="753.25" y="647.8" font-size="14.5" text-anchor="middle">81</text>
</svg>
</body></html>
